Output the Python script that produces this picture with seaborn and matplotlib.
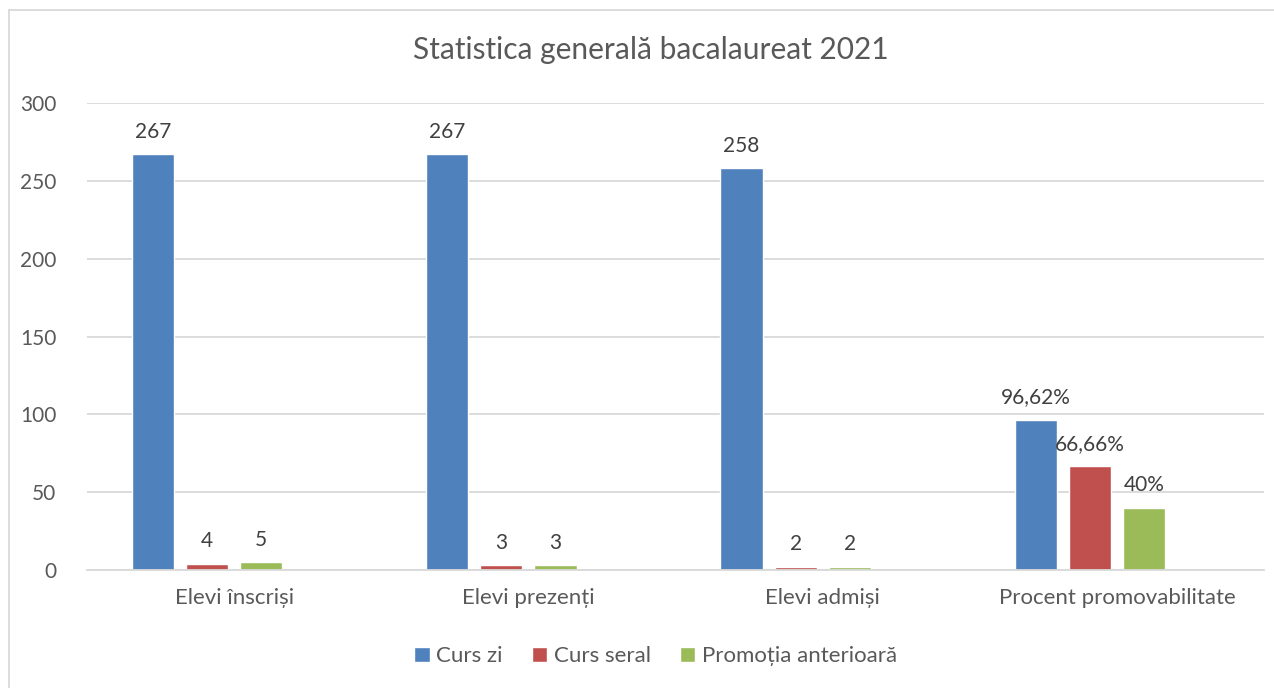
import numpy as np
import pandas as pd
import matplotlib.pyplot as plt
import seaborn as sns

categories = ["Elevi înscriși", "Elevi prezenți", "Elevi admiși", "Procent promovabilitate"]
series = ["Curs zi", "Curs seral", "Promoția anterioară", " "]
curs_zi = [267, 267, 258, 96.62]
curs_seral = [4, 3, 2, 66.66]
promotia = [5, 3, 2, 40]
empty = [np.nan, np.nan, np.nan, np.nan]
labels_zi = ["267", "267", "258", "96,62%"]
labels_seral = ["4", "3", "2", "66,66%"]
labels_prom = ["5", "3", "2", "40%"]

colors = ["#4f81bd", "#c0504d", "#9bbb59", "#ffffff"]
text_color = "#595959"

df = pd.DataFrame({
    "categorie": categories * 4,
    "serie": np.repeat(series, len(categories)),
    "valoare": curs_zi + curs_seral + promotia + empty,
})

sns.set_style("white")
plt.rcParams["font.family"] = ["Lato", "DejaVu Sans"]

fig = plt.figure(figsize=(12.74, 6.88), dpi=100)
ax = fig.add_axes([0.0683, 0.1715, 0.9239, 0.6788])

sns.barplot(
    data=df, x="categorie", y="valoare", hue="serie",
    order=categories, hue_order=series, palette=colors, saturation=1,
    width=0.735, gap=0.22, errorbar=None, ax=ax, legend=True,
)

# data labels
all_labels = [labels_zi, labels_seral, labels_prom]
for container, labs in zip(ax.containers[:3], all_labels):
    for bar, lab in zip(container, labs):
        ax.annotate(
            lab, (bar.get_x() + bar.get_width() / 2, bar.get_height()),
            xytext=(0, 9), textcoords="offset points",
            ha="center", va="bottom", fontsize=15, color="#404040",
        )

ax.set_ylim(0, 300)
ax.set_xlim(-0.5, 3.5)
ax.set_yticks(np.arange(0, 301, 50))
ax.yaxis.grid(True, color="#d9d9d9", linewidth=1.3)
ax.set_axisbelow(True)
ax.tick_params(axis="y", length=0, labelsize=15, labelcolor=text_color, pad=22)
ax.tick_params(axis="x", length=0, labelsize=16, labelcolor=text_color, pad=13)
for s in ["left", "right", "top"]:
    ax.spines[s].set_visible(False)
ax.spines["bottom"].set_color("#d9d9d9")
ax.spines["bottom"].set_linewidth(1.3)
ax.set_xlabel("")
ax.set_ylabel("")

handles, labels = ax.get_legend_handles_labels()
ax.legend(
    handles[:3], labels[:3], loc="center", bbox_to_anchor=(0.483, -0.185),
    ncol=3, frameon=False, fontsize=16, labelcolor=text_color,
    handlelength=0.7, handleheight=0.7, handletextpad=0.3, columnspacing=1.3,
)

fig.text(0.511, 0.927, "Statistica generală bacalaureat 2021",
         ha="center", va="center", fontsize=21.5, color=text_color)

# chart border
fig.add_artist(plt.Line2D([9 / 1274, 9 / 1274], [0, 1 - 10 / 688],
                          transform=fig.transFigure, color="#d9d9d9", linewidth=1.3))
fig.add_artist(plt.Line2D([9 / 1274, 1], [1 - 10 / 688, 1 - 10 / 688],
                          transform=fig.transFigure, color="#d9d9d9", linewidth=1.3))

fig.savefig("out.png", dpi=100)
